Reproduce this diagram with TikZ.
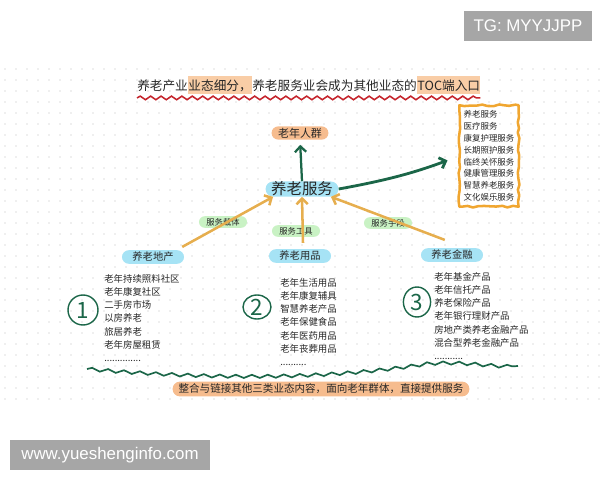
\documentclass[tikz,border=0pt]{standalone}
\usepackage{fontspec}
\setmainfont{Noto Sans CJK SC}
\newfontfamily\markfont{Liberation Sans}
\usepackage{tikz}
\usetikzlibrary{arrows,arrows.meta,shapes,positioning,calc,decorations.pathmorphing}
\definecolor{skypill}{HTML}{A6E3F5}
\definecolor{peachpill}{HTML}{F6BC8E}
\definecolor{mintpill}{HTML}{C9F2C4}
\definecolor{tanline}{HTML}{E6AE4E}
\definecolor{inkgreen}{HTML}{1B6648}
\definecolor{wavered}{HTML}{C4232B}
\definecolor{boxorange}{HTML}{F0A630}
\definecolor{hilite}{HTML}{F9CDA6}
\definecolor{markgray}{HTML}{A6A6A6}
\definecolor{dotgray}{HTML}{DEDEDE}
\tikzstyle{pill}=[rounded rectangle,inner sep=0pt]
\tikzstyle{hub}=[pill,fill=skypill,minimum width=1.75cm,minimum height=0.375cm,
              font=\fontsize{11pt}{11pt}\selectfont]
\tikzstyle{branch}=[pill,fill=skypill,minimum width=1.55cm,minimum height=0.34cm,
              font=\fontsize{7.3pt}{7.3pt}\selectfont]
\tikzstyle{target}=[pill,fill=peachpill,minimum width=1.42cm,minimum height=0.33cm,
              font=\fontsize{7.8pt}{7.8pt}\selectfont]
\tikzstyle{tag}=[pill,fill=mintpill,minimum width=1.2cm,minimum height=0.29cm,
              font=\fontsize{5.9pt}{5.9pt}\selectfont]
\tikzstyle{itemlist}=[align=left,inner sep=0pt,font=\fontsize{6.7pt}{9.4pt}\selectfont]
\tikzstyle{crayonbox}=[align=left,inner xsep=0.1cm,inner ysep=0.13cm,
              font=\fontsize{6pt}{8.4pt}\selectfont]
\tikzstyle{crayon}=[draw=boxorange,line width=1.8pt,line join=round,decorate,
              decoration={random steps,segment length=4pt,amplitude=0.7pt}]
\tikzstyle{numring}=[ellipse,draw=inkgreen,line width=1pt,inner sep=0pt,text=inkgreen,
              font=\fontsize{16pt}{16pt}\selectfont]
\tikzstyle{feed}=[->,line width=1.8pt,draw=tanline]
\tikzstyle{reach}=[->,line width=1.6pt,draw=inkgreen]
\tikzstyle{heading}=[inner xsep=0pt,inner ysep=1.5pt,text height=0.88em,text depth=0.12em,
              font=\fontsize{9pt}{9pt}\selectfont]
\tikzstyle{marked}=[heading,fill=hilite]
\tikzstyle{watermark}=[fill=markgray,text=white,inner sep=0pt,
              font=\markfont\fontsize{12pt}{12pt}\selectfont]

\begin{document}
\begin{tikzpicture}[x=0.025cm,y=-0.025cm,>={Straight Barb[length=4pt,width=8pt]},
                    text=black!85]
  \useasboundingbox (0,0) rectangle (600,480);

  % dotted paper
  \foreach \x in {5,16,...,600}
    \foreach \y in {69,80,...,406}
      \fill[dotgray] (\x,\y) circle (0.55pt);

  % title
  \node[heading,anchor=west] (tA) at (137,85) {养老产业};
  \node[marked,right=0pt of tA] (tB) {业态细分，};
  \node[heading,right=0pt of tB] (tC) {养老服务业会成为其他业态的};
  \node[marked,right=0pt of tC] (tD) {TOC端入口};
  \draw[wavered,line width=1.1pt,decorate,
        decoration={snake,segment length=2.6mm,amplitude=0.45mm}]
    ([yshift=-2.5pt]tA.south west) -- ([yshift=-2.5pt]tD.south east);

  \node[target] (crowd) at (300,133) {老年人群};
  \node[hub] (service) at (302,189) {养老服务};
  \node[crayonbox] (svclist) at (489,156)
    {养老服务\\医疗服务\\康复护理服务\\长期照护服务\\临终关怀服务\\健康管理服务\\智慧养老服务\\文化娱乐服务};
  \draw[crayon] (svclist.south west) rectangle (svclist.north east);

  \node[tag] (carrier) at (223,222) {服务载体};
  \node[tag] (tool) at (296,231) {服务工具};
  \node[tag] (means) at (388,223) {服务手段};

  \node[branch] (estate) at (153,257) {养老地产};
  \node[branch] (goods) at (300,256) {养老用品};
  \node[branch] (finance) at (452,255) {养老金融};

  \node[itemlist,anchor=north west] (estatelist) at (104,274)
    {老年持续照料社区\\老年康复社区\\二手房市场\\以房养老\\旅居养老\\老年房屋租赁\\..............};
  \node[itemlist,anchor=north west] (goodslist) at (280,278)
    {老年生活用品\\老年康复辅具\\智慧养老产品\\老年保健食品\\老年医药用品\\老年丧葬用品\\..........};
  \node[itemlist,anchor=north west] (financelist) at (434,272)
    {老年基金产品\\老年信托产品\\养老保险产品\\老年银行理财产品\\房地产类养老金融产品\\混合型养老金融产品\\...........};

  \node[numring,minimum width=0.75cm,minimum height=0.75cm] (one) at (83,310) {1};
  \node[numring,minimum width=0.7cm,minimum height=0.6cm] (two) at (257,307) {2};
  \node[numring,minimum width=0.68cm,minimum height=0.75cm] (three) at (417,302) {3};

  % arrows
  \draw[reach,shorten >=3.5pt] (service.north) -- (crowd.south);
  \draw[reach,line width=2pt,shorten >=9pt] (service.east) to[bend right=5] (svclist.west);
  \draw[feed] ($(estate.north east)+(5,-3)$) -- (service.south west);
  \draw[feed] ($(goods.north)+(3,-6)$) -- (service.south);
  \draw[feed] ($(finance.north west)+(17,-8)$) -- (service.south east);

  % bottom
  \draw[inkgreen,line width=1.2pt,decorate,
        decoration={snake,segment length=4mm,amplitude=0.4mm}]
    (87,369) .. controls (220,380) and (330,378) .. (420,364)
             .. controls (460,360) and (490,368) .. (518,366);
  \node[pill,fill=peachpill,minimum width=7.42cm,minimum height=0.37cm,
        font=\fontsize{7.5pt}{7.5pt}\selectfont] (summary) at (321,389)
    {整合与链接其他三类业态内容，面向老年群体，直接提供服务};

  \node[watermark,minimum width=3.18cm,minimum height=0.75cm] (tg) at (528,26) {TG: MYYJJPP};
  \node[watermark,minimum width=5cm,minimum height=0.73cm] (site) at (110,455) {www.yueshenginfo.com};
\end{tikzpicture}
\end{document}
